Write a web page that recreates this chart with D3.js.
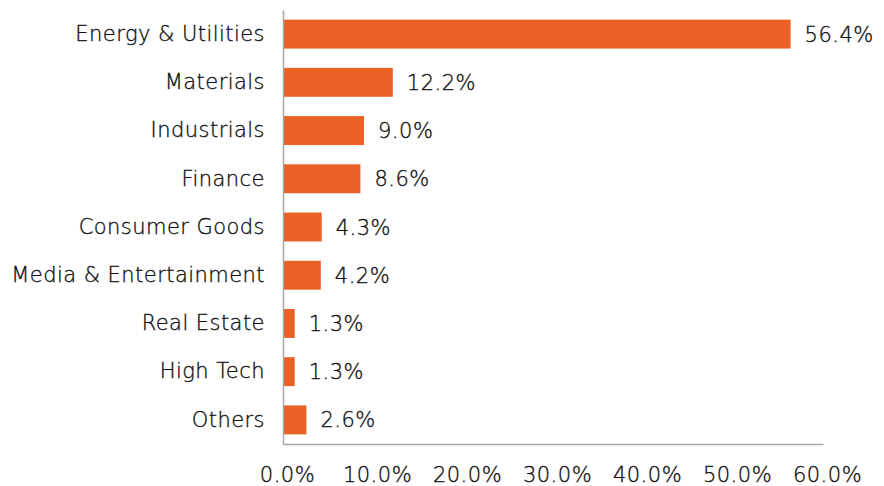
<!DOCTYPE html>
<html>
<head>
<meta charset="utf-8">
<script src="https://cdn.jsdelivr.net/npm/d3@7"></script>
<style>
  body { margin: 0; background: #fff; }
  text { font-family: "DejaVu Sans", sans-serif; font-weight: 200; fill: #111; stroke: #111; stroke-width: 0.35px; }
</style>
</head>
<body>
<div id="chart"></div>
<script>
// Data
var categories = ["Energy & Utilities", "Materials", "Industrials", "Finance", "Consumer Goods",
                  "Media & Entertainment", "Real Estate", "High Tech", "Others"];
var shares = [56.4, 12.2, 9.0, 8.6, 4.3, 4.2, 1.3, 1.3, 2.6];
var xTicks = [0, 10, 20, 30, 40, 50, 60];

var data = categories.map(function(c, i) { return {name: c, value: shares[i]}; });

var width = 884, height = 486;
var margin = {top: 10, right: 61, bottom: 42, left: 283};
var fontStack = "'DejaVu Sans', sans-serif";

var svg = d3.select("#chart")
  .append("svg")
  .attr("width", width)
  .attr("height", height);

// Scales
var xScale = d3.scaleLinear()
  .domain([0, 60])
  .range([margin.left, width - margin.right]);

var yScale = d3.scaleBand()
  .domain(categories)
  .range([margin.top, height - margin.bottom])
  .paddingInner(0.4)
  .paddingOuter(0.2);

// Bars
svg.selectAll(".bar")
  .data(data)
  .enter().append("rect")
  .attr("class", "bar")
  .attr("x", xScale(0))
  .attr("y", function(d) { return yScale(d.name); })
  .attr("width", function(d) { return xScale(d.value) - xScale(0); })
  .attr("height", yScale.bandwidth())
  .attr("fill", "#ea6125");

// Value labels
svg.selectAll(".val")
  .data(data)
  .enter().append("text")
  .attr("class", "val")
  .attr("x", function(d) { return xScale(d.value) + 14; })
  .attr("y", function(d) { return yScale(d.name) + yScale.bandwidth() / 2; })
  .attr("dy", "0.36em")
  .style("font-size", "21px")
  .style("letter-spacing", "0.5px")
  .text(function(d) { return d.value.toFixed(1) + "%"; });

// Y axis (category labels)
var yAxis = svg.append("g")
  .attr("transform", "translate(" + xScale(0) + ",0)")
  .call(d3.axisLeft(yScale).tickSize(0).tickPadding(18));
yAxis.select(".domain").attr("stroke", "#a6a6a6").attr("stroke-width", 1.5);
yAxis.selectAll("text")
  .style("font-size", "21px")
  .style("letter-spacing", "0.45px")
  .style("font-family", fontStack)
  .style("font-weight", 200)
  .attr("fill", "#111");

// X axis
var xAxis = svg.append("g")
  .attr("transform", "translate(0," + (height - margin.bottom) + ")")
  .call(d3.axisBottom(xScale).tickValues(xTicks).tickSize(0).tickPadding(23)
    .tickFormat(function(d) { return d.toFixed(1) + "%"; }));
xAxis.select(".domain").attr("stroke", "#a6a6a6").attr("stroke-width", 1.5);
xAxis.selectAll("text")
  .attr("dx", 4)
  .style("font-size", "21px")
  .style("letter-spacing", "0.5px")
  .style("font-family", fontStack)
  .style("font-weight", 200)
  .attr("fill", "#111");
</script>
</body>
</html>
